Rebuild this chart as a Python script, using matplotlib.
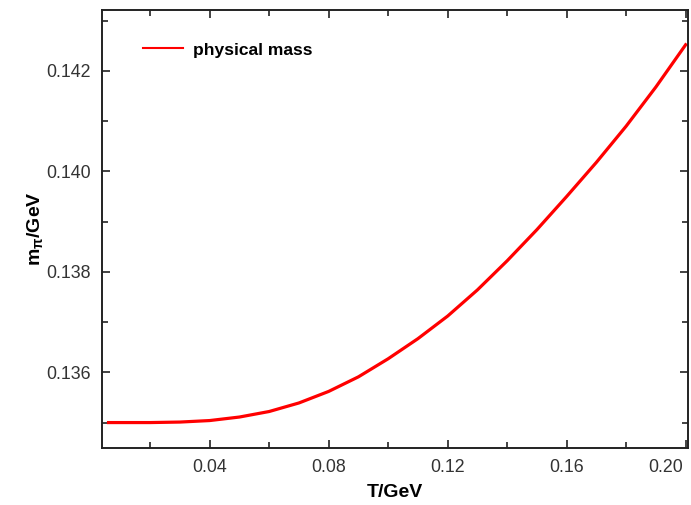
import matplotlib
matplotlib.use("Agg")
import matplotlib.pyplot as plt
from matplotlib.ticker import MultipleLocator
from matplotlib.transforms import ScaledTranslation

plt.rcParams['font.family'] = ['Liberation Sans', 'DejaVu Sans']
plt.rcParams['mathtext.default'] = 'regular'

T = [0.006, 0.02, 0.03, 0.04, 0.05, 0.06, 0.07, 0.08, 0.09, 0.10, 0.11,
     0.12, 0.13, 0.14, 0.15, 0.16, 0.17, 0.18, 0.19, 0.20]
m_pi = [0.13500, 0.13500, 0.13501, 0.13504, 0.13511, 0.13522, 0.13539,
        0.13562, 0.13591, 0.13627, 0.13667, 0.13712, 0.13764, 0.13822,
        0.13884, 0.13950, 0.14018, 0.14090, 0.14168, 0.14252]
xticks = [0.04, 0.08, 0.12, 0.16, 0.20]
xticklabels = ['0.04', '0.08', '0.12', '0.16', '0.20']
yticks = [0.136, 0.138, 0.140, 0.142]
yticklabels = ['0.136', '0.138', '0.140', '0.142']

fig = plt.figure(figsize=(6.91, 5.05), dpi=100)
ax = fig.add_axes([0.1476, 0.1135, 0.8481, 0.8665])

ax.plot(T, m_pi, color='#ff0000', lw=2.3, label='physical mass',
        solid_joinstyle='round')

ax.set_xlim(0.0038, 0.2008)
ax.set_ylim(0.1345, 0.14321)
ax.set_xticks(xticks)
ax.set_xticklabels(xticklabels)
ax.set_yticks(yticks)
ax.set_yticklabels(yticklabels)
ax.xaxis.set_minor_locator(MultipleLocator(0.02))
ax.yaxis.set_minor_locator(MultipleLocator(0.001))

ax.tick_params(which='both', direction='in', top=True, right=True,
               width=1.2, colors='#222222', labelcolor='#333333')
ax.tick_params(which='major', length=6, labelsize=12.8, pad=8)
ax.tick_params(which='minor', length=4)
for s in ax.spines.values():
    s.set_linewidth(1.4)
    s.set_color('#222222')

# shift last x tick label so it fits inside the figure, as in the reference
last = ax.get_xticklabels()[-1]
last.set_transform(last.get_transform() + ScaledTranslation(-20 / 100, 0, fig.dpi_scale_trans))

ax.set_xlabel('T/GeV', fontsize=14, fontweight='bold', labelpad=6)
ax.set_ylabel(r'm$_{\pi}$/GeV', fontsize=14, fontweight='bold')
ax.yaxis.set_label_coords(-0.098, 0.5)

leg = ax.legend(loc='center left', bbox_to_anchor=(0.043, 0.909), frameon=False,
                handlelength=2.3, handletextpad=0.55,
                prop={'weight': 'bold', 'size': 12.6})
for h in leg.get_lines():
    h.set_linewidth(1.5)

fig.savefig('out.png', dpi=100)
